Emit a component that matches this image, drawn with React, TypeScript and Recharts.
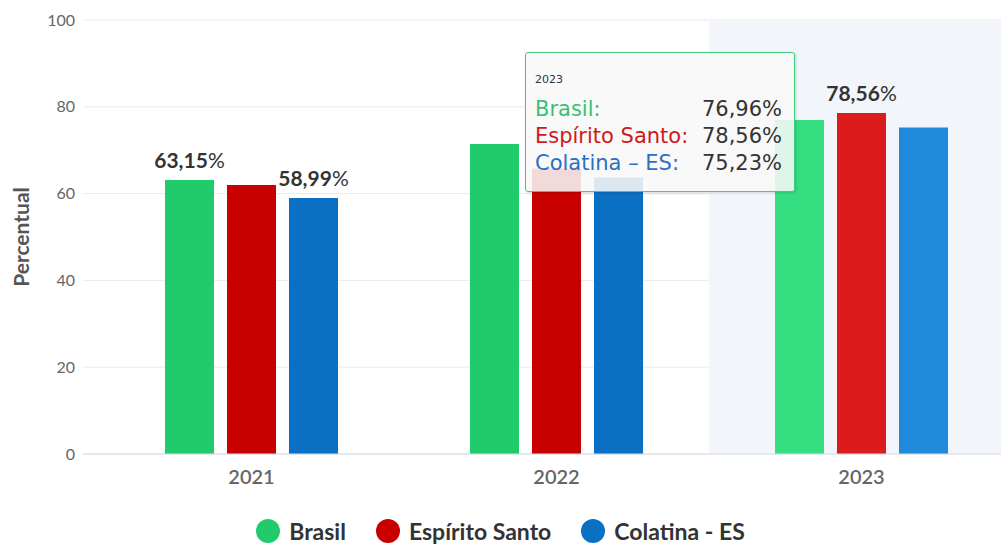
import React from 'react';
import {
  BarChart, Bar, XAxis, YAxis, CartesianGrid, Tooltip, Legend, LabelList, Cell,
} from 'recharts';

const years = ['2021', '2022', '2023'];
const brasil = [63.15, 71.43, 76.96];
const espiritoSanto = [62.0, 65.8, 78.56];
const colatina = [58.99, 63.7, 75.23];
const yTicks = [0, 20, 40, 60, 80, 100];

const series = [
  { key: 'brasil', name: 'Brasil', color: '#21cb6c', hover: '#36de82', text: '#3cbf74' },
  { key: 'es', name: 'Espírito Santo', color: '#c90000', hover: '#dc1c1c', text: '#d01818' },
  { key: 'colatina', name: 'Colatina - ES', color: '#0a70c4', hover: '#1f89dc', text: '#2a70c4' },
];

const data = years.map((year, i) => ({
  year,
  brasil: brasil[i],
  es: espiritoSanto[i],
  colatina: colatina[i],
}));

const fmt = (v: number) => v.toFixed(2).replace('.', ',');

// which data labels Highcharts left visible (the rest overlap)
const visibleLabels: Record<string, number[]> = {
  brasil: [0],
  es: [2],
  colatina: [0],
};

const FONT = 'Lato, "Noto Sans", sans-serif';

function makeLabel(key: string) {
  return (props: any) => {
    const { x, y, width, value, index } = props;
    if (!visibleLabels[key].includes(index)) return null;
    return (
      <text
        x={x + width / 2}
        y={y - 12}
        textAnchor="middle"
        fontFamily={FONT}
        fontSize={21}
        fill="#333"
      >
        <tspan fontWeight={700}>{fmt(value)}</tspan>
        <tspan fontWeight={400}>%</tspan>
      </text>
    );
  };
}

function TooltipBox(props: any) {
  const { payload, label } = props;
  if (!payload || !payload.length) return null;
  return (
    <div
      style={{
        width: 270,
        height: 140,
        boxSizing: 'border-box',
        background: 'rgba(248,248,248,0.88)',
        border: '1px solid #3fce7f',
        borderRadius: 3,
        padding: '20px 12px 0 9px',
        fontFamily: '"DejaVu Sans", Verdana, sans-serif',
        boxShadow: '1px 1px 3px rgba(0,0,0,0.15)',
      }}
    >
      <div style={{ fontSize: 11, color: '#333', lineHeight: '14px', marginBottom: 9 }}>{label}</div>
      {series.map((s) => {
        const p = payload.find((q: any) => q.dataKey === s.key);
        return (
          <div
            key={s.key}
            style={{ display: 'flex', justifyContent: 'space-between', fontSize: 21, lineHeight: '27px', whiteSpace: 'nowrap' }}
          >
            <span style={{ color: s.text }}>{s.name.replace(' - ', ' – ')}:</span>
            <span style={{ color: '#333' }}>{p ? fmt(p.value) + '%' : ''}</span>
          </div>
        );
      })}
    </div>
  );
}

function LegendBox() {
  return (
    <div
      style={{
        display: 'flex',
        justifyContent: 'center',
        alignItems: 'center',
        gap: 30,
        fontFamily: FONT,
        fontSize: 23,
        fontWeight: 700,
        color: '#333',
        height: 30,
      }}
    >
      {series.map((s) => (
        <div key={s.key} style={{ display: 'flex', alignItems: 'center' }}>
          <span
            style={{
              width: 24,
              height: 24,
              borderRadius: '50%',
              background: s.color,
              display: 'inline-block',
              marginRight: 9,
            }}
          />
          {s.name}
        </div>
      ))}
    </div>
  );
}

function AxisTitle(props: any) {
  const { viewBox } = props;
  const cy = viewBox.y + viewBox.height / 2;
  return (
    <text
      x={20}
      y={cy}
      transform={`rotate(-90 20 ${cy})`}
      textAnchor="middle"
      dominantBaseline="central"
      fontFamily={FONT}
      fontSize={21}
      fontWeight={700}
      fill="#555"
    >
      Percentual
    </text>
  );
}

export default function App() {
  return (
    <div style={{ position: 'absolute', left: 0, top: 0, width: 1001, height: 546, overflow: 'hidden', background: '#fff' }}>
      <BarChart
        width={1022}
        height={546}
        data={data}
        margin={{ top: 20, right: 8, left: 0, bottom: 22 }}
        barSize={49}
        barGap={13}
      >
        <CartesianGrid vertical={false} stroke="#ebebeb" />
        <XAxis
          dataKey="year"
          height={40}
          padding={{ left: 16, right: 0 }}
          axisLine={{ stroke: '#d6dbe3' }}
          tickLine={false}
          tickMargin={10}
          tick={{ fill: '#666', fontSize: 20, fontWeight: 600, fontFamily: FONT }}
        />
        <YAxis
          width={83}
          domain={[0, 100]}
          ticks={yTicks}
          axisLine={false}
          tickLine={false}
          tickSize={4}
          tickMargin={4}
          tick={{ fill: '#666', fontSize: 16, fontFamily: FONT }}
          label={<AxisTitle />}
        />
        <Tooltip
          active
          defaultIndex={2}
          position={{ x: 525, y: 52 }}
          cursor={{ fill: '#f2f6fb' }}
          content={<TooltipBox />}
          isAnimationActive={false}
          wrapperStyle={{ zIndex: 5 }}
        />
        <Legend
          verticalAlign="bottom"
          height={30}
          content={<LegendBox />}
          wrapperStyle={{ left: 0, width: 1001, bottom: 0, height: 30 }}
        />
        {series.map((s) => (
          <Bar key={s.key} dataKey={s.key} name={s.name} fill={s.color} isAnimationActive={false}>
            {data.map((_, i) => (
              <Cell key={i} fill={i === 2 ? s.hover : s.color} />
            ))}
            <LabelList dataKey={s.key} content={makeLabel(s.key)} />
          </Bar>
        ))}
      </BarChart>
    </div>
  );
}
